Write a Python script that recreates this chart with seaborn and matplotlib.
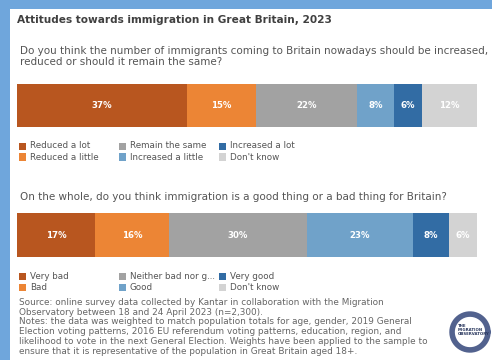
import matplotlib
matplotlib.use("Agg")
import matplotlib.pyplot as plt
from matplotlib.patches import Rectangle
import seaborn as sns
import pandas as pd
import numpy as np

sns.set_theme(style="white")
plt.rcParams['font.family'] = ['DejaVu Sans']

title = "Attitudes towards immigration in Great Britain, 2023"
q1 = "Do you think the number of immigrants coming to Britain nowadays should be increased,\nreduced or should it remain the same?"
q2 = "On the whole, do you think immigration is a good thing or a bad thing for Britain?"

cats1 = ["Reduced a lot", "Reduced a little", "Remain the same", "Increased a little", "Increased a lot", "Don't know"]
vals1 = [37, 15, 22, 8, 6, 12]
cats2 = ["Very bad", "Bad", "Neither bad nor good", "Good", "Very good", "Don't know"]
vals2 = [17, 16, 30, 23, 8, 6]
legend2_labels = ["Very bad", "Bad", "Neither bad nor g...", "Good", "Very good", "Don't know"]
colors = ["#b8561f", "#ec8535", "#a2a2a2", "#70a2c9", "#326ca4", "#d3d3d3"]

source = ("Source: online survey data collected by Kantar in collaboration with the Migration\n"
          "Observatory between 18 and 24 April 2023 (n=2,300).\n"
          "Notes: the data was weighted to match population totals for age, gender, 2019 General\n"
          "Election voting patterns, 2016 EU referendum voting patterns, education, region, and\n"
          "likelihood to vote in the next General Election. Weights have been applied to the sample to\n"
          "ensure that it is representative of the population in Great Britain aged 18+.")

W, H = 492, 360
fig = plt.figure(figsize=(W / 100, H / 100), dpi=100)
fig.patch.set_facecolor("#6fa6dc")
fig.patches.append(Rectangle((10 / W, 0), 1 - 10 / W, 1 - 9 / H, transform=fig.transFigure,
                             facecolor="white", edgecolor="none", zorder=-5))


def fx(x):
    return x / W


def fy(y):
    return 1 - y / H


fig.text(fx(17), fy(20), title, fontsize=7.55, fontweight="bold", color="#404040", va="center")
fig.text(fx(20), fy(56.5), q1, fontsize=7.5, color="#555555", va="center", linespacing=1.15)
fig.text(fx(20), fy(197), q2, fontsize=7.5, color="#555555", va="center")


def stacked(top, bottom, cats, vals):
    ax = fig.add_axes([fx(17), fy(bottom), fx(480) - fx(17), (bottom - top + 3) / H])
    ax.set_facecolor("#eeeeee")
    cum = np.cumsum(vals)
    # draw cumulative bars from the largest to smallest so they stack
    for i in range(len(vals) - 1, -1, -1):
        df = pd.DataFrame({"q": ["q"], "v": [cum[i]]})
        sns.barplot(data=df, x="v", y="q", orient="h", color=colors[i], width=1.0,
                    saturation=1, ax=ax, linewidth=0)
    starts = cum - np.array(vals)
    for s, v in zip(starts, vals):
        ax.text(s + v / 2, 0, f"{v}%", ha="center", va="center", color="white",
                fontsize=6.2, fontweight="bold")
    ax.set_xlim(0, 100 * (480 - 17) / 460)
    ax.set_ylim(0.5, -0.5 - 3 / (bottom - top))
    ax.set_axis_off()
    return ax


stacked(84, 127, cats1, vals1)
stacked(213, 257, cats2, vals2)


def legend(labels, y0):
    for i, lab in enumerate(labels):
        col, row = i // 2, i % 2
        x = 19 + col * 100
        y = y0 + row * 11
        fig.patches.append(Rectangle((fx(x), fy(y + 3.5)), 7 / W, 7 / H, transform=fig.transFigure,
                                     facecolor=colors[i], edgecolor="none"))
        fig.text(fx(x + 11), fy(y), lab, fontsize=6.3, color="#555555", va="center")


legend(cats1, 146)
legend(legend2_labels, 276.5)

fig.text(fx(19), fy(298), source, fontsize=6.4, color="#666666", va="top", linespacing=1.1)

# logo
ax_logo = fig.add_axes([fx(447), fy(355), 46 / W, 46 / H])
ax_logo.set_axis_off()
ax_logo.set_xlim(-1, 1)
ax_logo.set_ylim(-1, 1)
th = np.linspace(0, 2 * np.pi, 200)
ax_logo.plot(0.78 * np.cos(th), 0.78 * np.sin(th), color="#34467a", lw=4, alpha=0.85)
ax_logo.text(-0.52, 0.08, "THE\nMIGRATION\nOBSERVATORY", fontsize=2.8, color="#27355c",
             fontweight="bold", va="center", ha="left", linespacing=0.9)

fig.savefig("out.png", dpi=100)
